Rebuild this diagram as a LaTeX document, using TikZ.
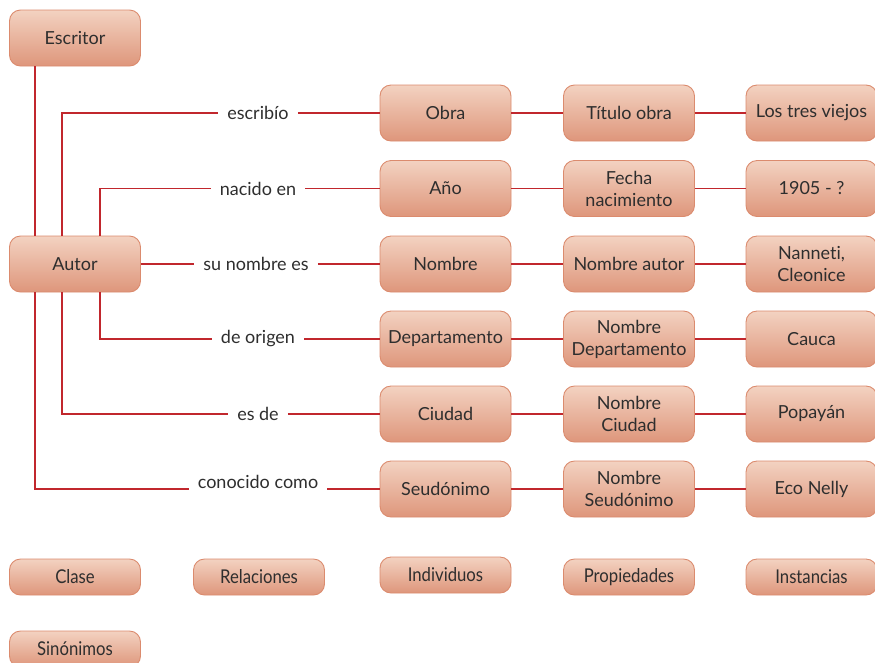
\documentclass[tikz,border=0pt]{standalone}
\usepackage{fontspec}
\setmainfont{Lato}[Ligatures=NoCommon]
\newfontfamily\condfont[FakeStretch=0.88,Ligatures=NoCommon]{Lato}
\usetikzlibrary{positioning}
\definecolor{boxtop}{HTML}{F3D2C1}
\definecolor{boxbot}{HTML}{DE967B}
\definecolor{boxline}{HTML}{DB8B6E}
\definecolor{linkred}{HTML}{C1272D}
\definecolor{ink}{HTML}{2E2E2E}

\begin{document}
\begin{tikzpicture}[%
        x=1pt, y=-1pt,
        concept/.style={%
          rounded corners=11pt,
          draw=boxline, line width=0.9pt,
          top color=boxtop, middle color=boxtop, bottom color=boxbot,
          minimum width=131pt, minimum height=56pt,
          inner sep=1pt, align=center, text=ink,
          font=\fontsize{18}{22}\selectfont
        },
        legend/.style={concept, minimum height=36pt,
          font=\condfont\fontsize{19}{22}\selectfont},
        rel/.style={inner xsep=9pt, inner ysep=2pt, text=ink,
          font=\fontsize{18}{21}\selectfont},
        link/.style={draw=linkred, line width=1.9pt}
      ]
      \useasboundingbox (0,0) rectangle (875,662);
      % classes
      \node[concept] (escritor) at (75,38) {Escritor};
      \node[concept] (autor) at (75,264) {Autor};
      % relations
      \node[rel] (escribio) at (258,113) {escribío};
      \node[rel] (nacido) at (258,188.5) {nacido en};
      \node[rel] (sunombre) at (256,264) {su nombre es};
      \node[rel] (origen) at (258,339) {de origen};
      \node[rel] (esde) at (258,414) {es de};
      \node[rel] (conocido) at (258,482) {conocido como};
      % individuos
      \node[concept] (obra) at (445.5,113) {Obra};
      \node[concept] (anio) at (445.5,188.5) {Año};
      \node[concept] (nombre) at (445.5,264) {Nombre};
      \node[concept] (depto) at (445.5,339) {Departamento};
      \node[concept] (ciudad) at (445.5,414) {Ciudad};
      \node[concept] (seudo) at (445.5,489) {Seudónimo};
      % propiedades
      \node[concept] (tituloObra) at (629,113) {Título obra};
      \node[concept] (fecha) at (629,188.5) {Fecha\\nacimiento};
      \node[concept] (nombreAutor) at (629,264) {Nombre autor};
      \node[concept] (nombreDepto) at (629,339) {Nombre\\Departamento};
      \node[concept] (nombreCiudad) at (629,414) {Nombre\\Ciudad};
      \node[concept] (nombreSeudo) at (629,489) {Nombre\\Seudónimo};
      % instancias
      \node[concept] (losTres) at (811.5,113) {Los tres viejos};
      \node[concept] (anioVal) at (811.5,188.5) {1905 - ?};
      \node[concept] (nanneti) at (811.5,264) {Nanneti,\\Cleonice};
      \node[concept] (cauca) at (811.5,339) {Cauca};
      \node[concept] (popayan) at (811.5,414) {Popayán};
      \node[concept] (eco) at (811.5,489) {Eco Nelly};
      % leyenda
      \node[legend] (clase) at (75,577) {Clase};
      \node[legend] (relaciones) at (259,577) {Relaciones};
      \node[legend] (individuos) at (445.5,575) {Individuos};
      \node[legend] (propiedades) at (629,577) {Propiedades};
      \node[legend] (instancias) at (811.5,577) {Instancias};
      \node[legend] (sinonimos) at (75,649) {Sinónimos};

      \draw[link] (escritor.south -| 35,0) -- (autor.north -| 35,0);
      \draw[link] (autor.south -| 35,0) |- (conocido.west |- 0,489);
      \draw[link] (autor.north -| 62,0) |- (escribio);
      \draw[link] (autor.north -| 100,0) |- (nacido);
      \draw[link] (autor) -- (sunombre);
      \draw[link] (autor.south -| 100,0) |- (origen);
      \draw[link] (autor.south -| 62,0) |- (esde);
      \path[link] (escribio) edge (obra)
      (nacido) edge (anio)
      (sunombre) edge (nombre)
      (origen) edge (depto)
      (esde) edge (ciudad)
      (conocido.east |- 0,489) edge (seudo)
      (obra) edge (tituloObra)
      (anio) edge (fecha)
      (nombre) edge (nombreAutor)
      (depto) edge (nombreDepto)
      (ciudad) edge (nombreCiudad)
      (seudo) edge (nombreSeudo)
      (tituloObra) edge (losTres)
      (fecha) edge (anioVal)
      (nombreAutor) edge (nanneti)
      (nombreDepto) edge (cauca)
      (nombreCiudad) edge (popayan)
      (nombreSeudo) edge (eco);
\end{tikzpicture}
\end{document}
